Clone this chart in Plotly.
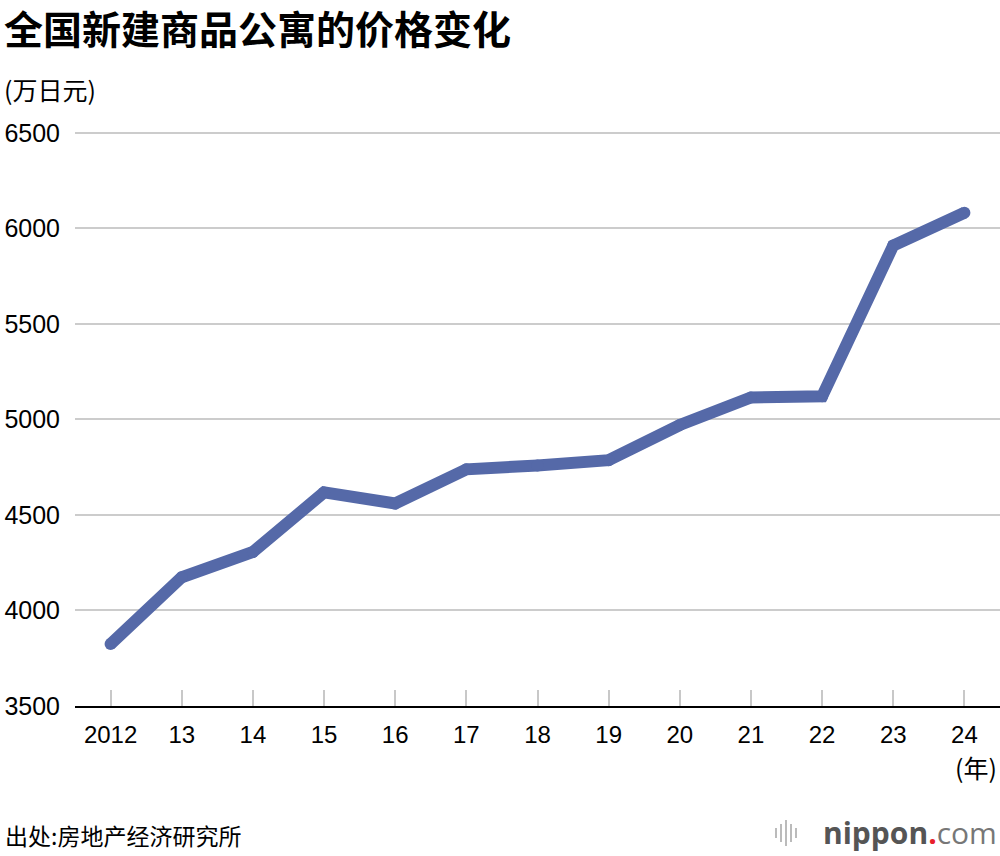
import plotly.graph_objects as go

years = [2012, 2013, 2014, 2015, 2016, 2017, 2018, 2019, 2020, 2021, 2022, 2023, 2024]
tick_labels = ["2012", "13", "14", "15", "16", "17", "18", "19", "20", "21", "22", "23", "24"]
prices = [3824, 4174, 4306, 4618, 4560, 4739, 4759, 4787, 4971, 5115, 5121, 5911, 6082]
y_ticks = [3500, 4000, 4500, 5000, 5500, 6000, 6500]

LINE = "#5569a8"
FONT = "Liberation Sans, Arial, Noto Sans CJK SC, sans-serif"
CJK = "Noto Sans CJK SC, sans-serif"

# plot area geometry (pixels)
L, R, T, B = 75, 0, 131, 150
PW, PH = 1000 - L - R, 856 - T - B

def px(x):
    return (x - L) / PW

def py(y):
    return (856 - B - y) / PH

fig = go.Figure()
fig.add_trace(go.Scatter(
    x=years, y=prices, mode="lines+markers",
    line=dict(color=LINE, width=12, shape="linear"),
    marker=dict(color=LINE, size=12, line=dict(width=0)),
    hoverinfo="skip", showlegend=False,
))

fig.update_layout(
    width=1000, height=856,
    margin=dict(l=L, r=R, t=T, b=B),
    paper_bgcolor="white", plot_bgcolor="white",
    font=dict(family=FONT, size=20, color="#000"),
    xaxis=dict(
        range=[2011.5, 2024.5], tickvals=years, ticktext=tick_labels,
        showgrid=False, zeroline=False,
        showline=True, linecolor="#000", linewidth=2,
        ticks="inside", ticklen=16, tickcolor="#c8c8c8", tickwidth=2,
        ticklabelstandoff=6,
        tickfont=dict(family=FONT, size=24, color="#000"),
    ),
    yaxis=dict(
        range=[3500, 6510], tickvals=y_ticks,
        showgrid=True, gridcolor="#cccccc", gridwidth=2,
        zeroline=False, showline=False, ticks="",
        ticklabelstandoff=14,
        tickfont=dict(family=FONT, size=25, color="#000"),
    ),
    annotations=[
        dict(text="<b>全国新建商品公寓的价格变化</b>", xref="paper", yref="paper",
             x=px(2), y=py(27), xanchor="left", yanchor="middle",
             showarrow=False, font=dict(family=CJK, size=39, color="#000")),
        dict(text="(万日元)", xref="paper", yref="paper",
             x=px(2), y=py(89), xanchor="left", yanchor="middle",
             showarrow=False, font=dict(family=CJK, size=25, color="#000")),
        dict(text="(年)", xref="paper", yref="paper",
             x=px(999), y=py(767), xanchor="right", yanchor="middle",
             showarrow=False, font=dict(family=CJK, size=25, color="#000")),
        dict(text="出处:房地产经济研究所", xref="paper", yref="paper",
             x=px(3), y=py(835), xanchor="left", yanchor="middle",
             showarrow=False, font=dict(family=CJK, size=23, color="#000")),
        dict(text="<span style='color:#555555'><b>nippon</b></span><span style='color:#e8202a'><b>.</b></span><span style='color:#777777'>com</span>",
             xref="paper", yref="paper",
             x=px(999), y=py(832), xanchor="right", yanchor="middle",
             showarrow=False, font=dict(family="Open Sans, sans-serif", size=30)),
    ],
)

# decorative logo bars (sound-wave icon)
bar_x = [776, 781, 786, 791, 796]
bar_h = [10, 18, 26, 18, 10]
for bx, bh in zip(bar_x, bar_h):
    fig.add_shape(type="line", xref="paper", yref="paper",
                  x0=px(bx), x1=px(bx),
                  y0=py(833 - bh / 2), y1=py(833 + bh / 2),
                  line=dict(color="#bbbbbb", width=2))

fig.write_html("out.html",
               config={"displayModeBar": False},
               post_script="document.body.style.margin='0';document.body.style.padding='0';")
